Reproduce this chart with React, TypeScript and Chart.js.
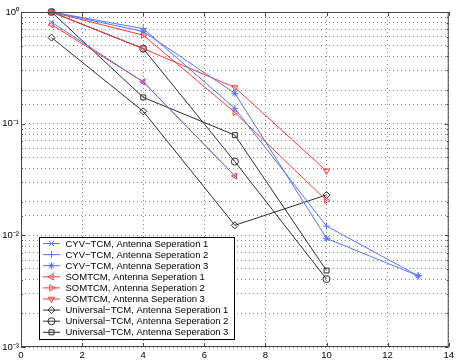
import React, { useEffect, useRef } from 'react';
import { Chart, registerables } from 'chart.js';
import { drawPoint } from 'chart.js/helpers';

Chart.register(...registerables);

// ---- data ----
const snrShort = [1, 4, 7];
const snrMid = [1, 4, 7, 10];
const snrLong = [1, 4, 7, 10, 13];

const cyv1 = [0.81, 0.237, 0.034];
const cyv2 = [1.0, 0.71, 0.137, 0.0121, 0.00434];
const cyv3 = [1.0, 0.67, 0.187, 0.0094, 0.00434];
const som1 = [0.77, 0.237, 0.034];
const som2 = [1.0, 0.62, 0.126, 0.0205];
const som3 = [1.0, 0.47, 0.211, 0.0377];
const uni1 = [0.59, 0.129, 0.0123, 0.023];
const uni2 = [1.0, 0.47, 0.0457, 0.00406];
const uni3 = [1.0, 0.172, 0.079, 0.00484];

const labels = [
  'CYV−TCM, Antenna Seperation 1',
  'CYV−TCM, Antenna Seperation 2',
  'CYV−TCM, Antenna Seperation 3',
  'SOMTCM, Antenna Seperation 1',
  'SOMTCM, Antenna Seperation 2',
  'SOMTCM, Antenna Seperation 3',
  'Universal−TCM, Antenna Seperation 1',
  'Universal−TCM, Antenna Seperation 2',
  'Universal−TCM, Antenna Seperation 3',
];

const yTickValues = [1, 0.1, 0.01, 0.001];
const yTickLabels = ['10⁰', '10⁻¹', '10⁻²', '10⁻³'];

const BLUE = 'rgb(85,115,255)';
const RED = 'rgb(255,55,55)';
const BLACK = 'rgb(45,45,45)';
const FONT = "'Liberation Sans', Arial, Helvetica, sans-serif";

const series = [
  { xs: snrShort, ys: cyv1, color: BLUE, style: 'crossRot', rot: 0 },
  { xs: snrLong, ys: cyv2, color: BLUE, style: 'cross', rot: 0 },
  { xs: snrLong, ys: cyv3, color: BLUE, style: 'star', rot: 0 },
  { xs: snrShort, ys: som1, color: RED, style: 'triangle', rot: -90 },
  { xs: snrMid, ys: som2, color: RED, style: 'triangle', rot: 90 },
  { xs: snrMid, ys: som3, color: RED, style: 'triangle', rot: 180 },
  { xs: snrMid, ys: uni1, color: BLACK, style: 'rectRot', rot: 0 },
  { xs: snrMid, ys: uni2, color: BLACK, style: 'circle', rot: 0 },
  { xs: snrMid, ys: uni3, color: BLACK, style: 'rect', rot: 0 },
];

const POINT_R = 3.5;

const framePlugin = {
  id: 'frame',
  afterDraw(chart: any) {
    const { ctx, chartArea: a, scales } = chart;
    ctx.save();
    ctx.strokeStyle = '#444';
    ctx.lineWidth = 1;
    ctx.strokeRect(a.left + 0.5, a.top + 0.5, a.right - a.left - 1, a.bottom - a.top - 1);
    // inward ticks
    const xs = scales.x;
    xs.ticks.forEach((t: any) => {
      const px = Math.round(xs.getPixelForValue(t.value)) + 0.5;
      ctx.beginPath();
      ctx.moveTo(px, a.bottom);
      ctx.lineTo(px, a.bottom - 4);
      ctx.moveTo(px, a.top);
      ctx.lineTo(px, a.top + 4);
      ctx.stroke();
    });
    const ys = scales.y;
    ys.ticks.forEach((t: any) => {
      const e = Math.log10(t.value);
      const major = Math.abs(e - Math.round(e)) < 1e-6;
      const len = major ? 4 : 2;
      const py = Math.round(ys.getPixelForValue(t.value)) + 0.5;
      ctx.beginPath();
      ctx.moveTo(a.left, py);
      ctx.lineTo(a.left + len, py);
      ctx.moveTo(a.right, py);
      ctx.lineTo(a.right - len, py);
      ctx.stroke();
    });
    ctx.restore();

    // legend box
    const L = 39, T = 237, R = 234, B = 339;
    ctx.save();
    ctx.fillStyle = '#fff';
    ctx.fillRect(L, T, R - L, B - T);
    ctx.strokeStyle = '#000';
    ctx.lineWidth = 1;
    ctx.strokeRect(L + 0.5, T + 0.5, R - L, B - T);
    ctx.font = `9.5px ${FONT}`;
    ctx.textBaseline = 'middle';
    ctx.textAlign = 'left';
    chart.data.datasets.forEach((ds: any, i: number) => {
      const y = T + 6.5 + i * 11.1;
      ctx.strokeStyle = ds.borderColor;
      ctx.lineWidth = 1;
      ctx.beginPath();
      ctx.moveTo(43, y);
      ctx.lineTo(60, y);
      ctx.stroke();
      ctx.fillStyle = 'rgba(0,0,0,0)';
      drawPoint(ctx, { pointStyle: ds.pointStyle, rotation: ds.pointRotation, radius: POINT_R, borderWidth: 1 }, 51.5, y);
      ctx.fillStyle = '#000';
      ctx.fillText(ds.label, 65.5, y + 0.5);
    });
    ctx.restore();
  },
};

export default function App() {
  const ref = useRef<HTMLCanvasElement | null>(null);
  useEffect(() => {
    if (!ref.current) return;
    Chart.defaults.font.family = FONT;
    const chart = new Chart(ref.current, {
      type: 'line',
      data: {
        datasets: series.map((s, i) => ({
          label: labels[i],
          data: s.xs.map((x, j) => ({ x, y: s.ys[j] })),
          borderColor: s.color,
          backgroundColor: s.color,
          borderWidth: 1,
          pointStyle: s.style as any,
          pointRotation: s.rot,
          pointRadius: POINT_R,
          pointBorderColor: s.color,
          pointBackgroundColor: 'rgba(0,0,0,0)',
          pointBorderWidth: 1,
          fill: false,
          tension: 0,
          clip: false as any,
        })),
      },
      options: {
        animation: false,
        responsive: false,
        events: [],
        layout: { padding: { top: 12, right: 8, left: 0, bottom: 0 } },
        plugins: { legend: { display: false }, tooltip: { enabled: false } },
        scales: {
          x: {
            type: 'linear',
            min: 0,
            max: 14,
            ticks: { stepSize: 2, color: '#000', font: { size: 9.5 }, padding: 3, maxRotation: 0 },
            grid: { color: '#858585', drawTicks: false, lineWidth: 1 },
            border: { display: false, dash: [1, 3] },
            afterFit: (s: any) => { s.height = 16; },
          },
          y: {
            type: 'logarithmic',
            min: 0.001,
            max: 1,
            ticks: {
              color: '#000',
              font: { size: 9.5 },
              padding: 2,
              autoSkip: false,
              callback: (v: any) => {
                const idx = yTickValues.findIndex((t) => Math.abs(Math.log10(Number(v)) - Math.log10(t)) < 1e-6);
                return idx >= 0 ? yTickLabels[idx] : '';
              },
            },
            grid: { color: '#858585', drawTicks: false, lineWidth: 1 },
            border: { display: false, dash: [1, 3] },
            afterFit: (s: any) => { s.width = 21; },
          },
        },
      },
      plugins: [framePlugin],
    });
    return () => chart.destroy();
  }, []);
  return (
    <div style={{ position: 'absolute', left: 0, top: 0, width: 457, height: 363, background: '#fff' }}>
      <canvas ref={ref} width={457} height={363} />
    </div>
  );
}
